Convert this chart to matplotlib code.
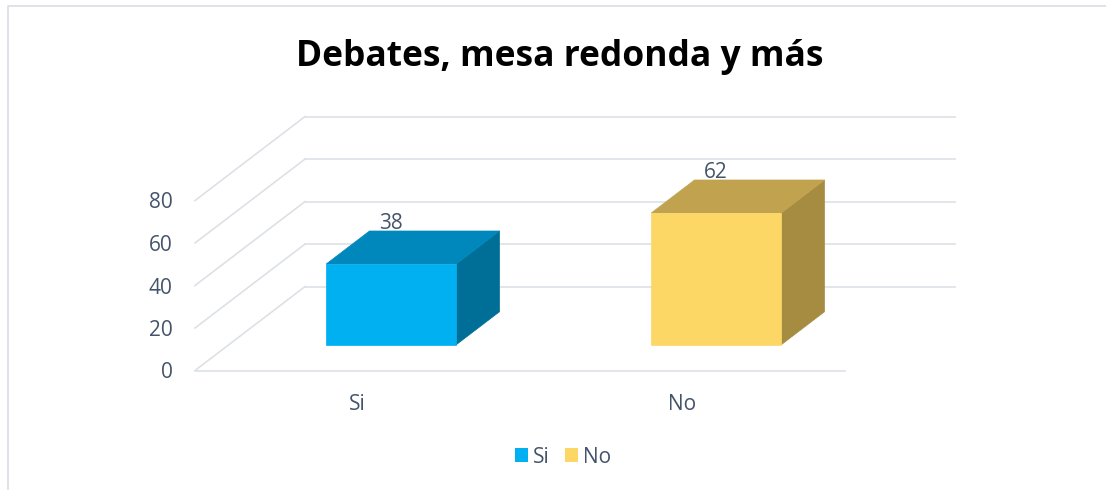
import matplotlib
matplotlib.use("Agg")
import matplotlib.pyplot as plt
from matplotlib.patches import Polygon, Patch
from matplotlib.lines import Line2D

# ---- data ----
title = "Debates, mesa redonda y más"
categories = ["Si", "No"]
values = [38, 62]
y_ticks = [0, 20, 40, 60, 80]

# ---- styling ----
front_colors = ["#00B0F0", "#FDD766"]
top_colors = ["#0087BB", "#C1A34F"]
side_colors = ["#006F97", "#A68C40"]
text_color = "#44546A"
grid_color = "#DDE1E6"
font = ["Open Sans", "DejaVu Sans"]
fs = 15

W, H, DPI = 1106, 490, 100
fig = plt.figure(figsize=(W / DPI, H / DPI), dpi=DPI)
fig.patch.set_facecolor("white")

# Axes spans the front plane of the 3-D box
left_px, right_px = 195, 845
base_px, top_px = 370.5, 200.5
ax = fig.add_axes([left_px / W, 1 - base_px / H,
                   (right_px - left_px) / W, (base_px - top_px) / H])
ax.set_xlim(0, len(categories))
ax.set_ylim(y_ticks[0], y_ticks[-1])
ax.patch.set_alpha(0)
for s in ax.spines.values():
    s.set_visible(False)

# oblique projection: depth d in [0, 1] shifts right and up
DX, DY = 0.3385, 39.5


def proj(x, v, d):
    return x + d * DX, v + d * DY


# walls: left side diagonals, back wall gridlines, floor front edge
for v in y_ticks:
    x0, y0 = proj(0, v, 0)
    x1, y1 = proj(0, v, 1)
    ax.add_line(Line2D([x0, x1], [y0, y1], color=grid_color, lw=1.2, clip_on=False, zorder=1))
    x2, y2 = proj(len(categories), v, 1)
    ax.add_line(Line2D([x1, x2], [y1, y2], color=grid_color, lw=1.2, clip_on=False, zorder=1))
ax.add_line(Line2D([0, len(categories)], [0, 0], color=grid_color, lw=1.2, clip_on=False, zorder=1))

# bars as 3-D boxes
bar_w = 0.4
d0, d1 = 0.306, 0.70
for i, (cat, v) in enumerate(zip(categories, values)):
    c = i + 0.5
    xl, xr = c - bar_w / 2, c + bar_w / 2
    front = [proj(xl, 0, d0), proj(xr, 0, d0), proj(xr, v, d0), proj(xl, v, d0)]
    top = [proj(xl, v, d0), proj(xr, v, d0), proj(xr, v, d1), proj(xl, v, d1)]
    side = [proj(xr, 0, d0), proj(xr, 0, d1), proj(xr, v, d1), proj(xr, v, d0)]
    for pts, col in ((side, side_colors[i]), (top, top_colors[i]), (front, front_colors[i])):
        ax.add_patch(Polygon(pts, closed=True, facecolor=col, edgecolor=col,
                             lw=0.5, clip_on=False, zorder=3))
    lx, _ = proj(c, v, d0)
    _, ly = proj(c, v, d1)
    ax.text(lx, ly + 3.6, str(v), ha="center", va="center", fontsize=fs,
            color=text_color, family=font, zorder=4)

# ticks
ax.set_yticks(y_ticks)
ax.set_yticklabels([str(t) for t in y_ticks], family=font, fontsize=fs, color=text_color)
ax.set_xticks([i + 0.5 for i in range(len(categories))])
ax.set_xticklabels(categories, family=font, fontsize=fs, color=text_color)
ax.tick_params(axis="y", length=0, pad=16)
ax.tick_params(axis="x", length=0, pad=17)

# title
fig.text(560 / W, 1 - 57 / H, title, ha="center", va="center", fontsize=25.5,
         fontweight="bold", color="black", family=font)

# legend
handles = [Patch(facecolor=front_colors[i], edgecolor="none", label=categories[i])
           for i in range(len(categories))]
leg = fig.legend(handles=handles, loc="center", bbox_to_anchor=(563 / W, 1 - 457 / H),
                 ncol=2, frameon=False, handlelength=0.65, handleheight=0.65,
                 handletextpad=0.25, columnspacing=0.7,
                 prop={"family": font, "size": fs}, labelcolor=text_color)

# chart frame (left and top edges)
fig.add_artist(Line2D([8 / W, 8 / W, 1.0], [0, 1 - 6 / H, 1 - 6 / H],
                      transform=fig.transFigure, color="#D9DDE3", lw=1.2))

fig.savefig("out.png", dpi=DPI)
